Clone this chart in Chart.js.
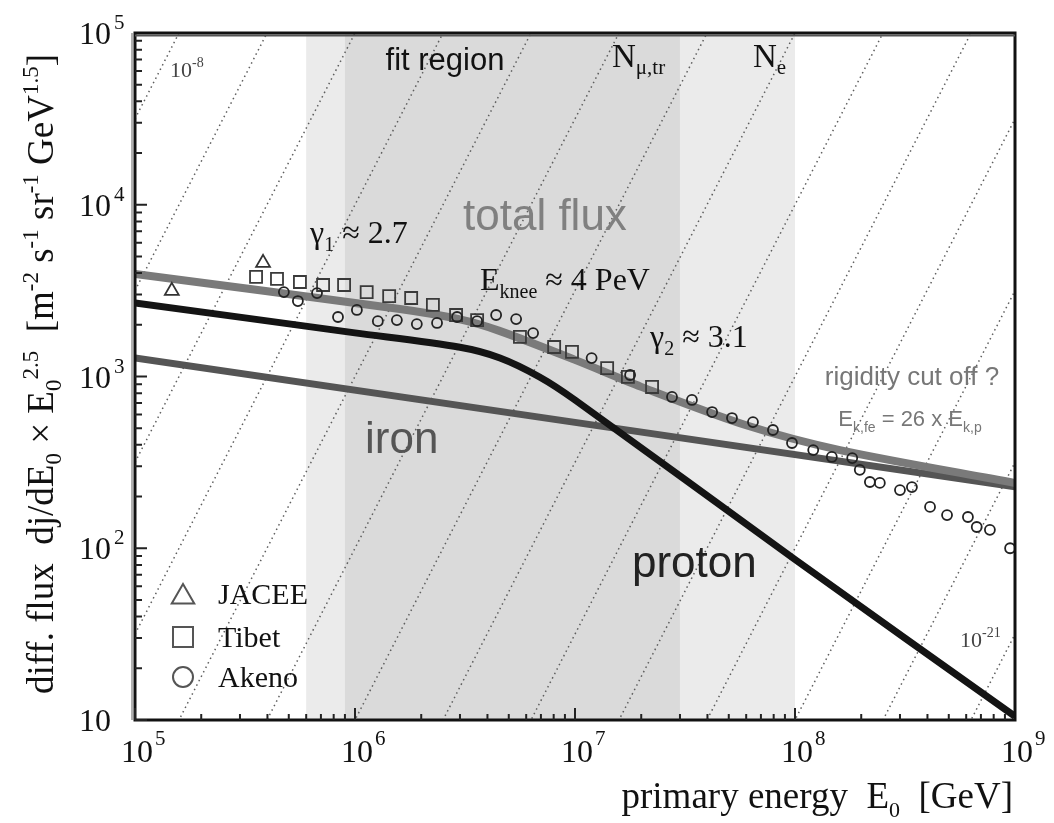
<!DOCTYPE html>
<html>
<head>
<meta charset="utf-8">
<title>Cosmic ray flux</title>
<script src="https://cdn.jsdelivr.net/npm/chart.js@4.4.1/dist/chart.umd.min.js"></script>
<style>
  html, body { margin: 0; padding: 0; background: #fff; }
  #wrap { width: 1054px; height: 823px; }
</style>
</head>
<body>
<div id="wrap"><canvas id="flux" width="1054" height="823"></canvas></div>
<script>
// primary energy in GeV, flux given as dJ/dE0 * E0^2.5
const jaceeE    = [1.47e5, 3.82e5];
const jaceeFlux = [3150, 4585];

const tibetE    = [3.55e5, 4.42e5, 5.62e5, 7.16e5, 8.92e5, 1.13e6, 1.43e6, 1.80e6, 2.26e6,
                   2.88e6, 3.59e6, 5.62e6, 8.04e6, 9.69e6, 1.40e7, 1.74e7, 2.24e7];
const tibetFlux = [3800, 3700, 3550, 3410, 3410, 3100, 2940, 2865, 2610,
                   2280, 2130, 1700, 1485, 1390, 1120, 994, 869];

const akenoE    = [4.75e5, 5.5e5, 6.72e5, 8.37e5, 1.02e6, 1.27e6, 1.55e6, 1.91e6, 2.36e6,
                   2.91e6, 3.59e6, 4.38e6, 5.4e6, 6.45e6, 1.19e7, 1.78e7, 2.76e7, 3.4e7,
                   4.2e7, 5.17e7, 6.44e7, 7.94e7, 9.69e7, 1.21e8, 1.47e8, 1.82e8, 1.97e8,
                   2.19e8, 2.43e8, 3.0e8, 3.4e8, 4.11e8, 4.91e8, 6.11e8, 6.7e8, 7.69e8, 9.5e8];
const akenoFlux = [3100, 2750, 3060, 2220, 2440, 2100, 2130, 2020, 2050,
                   2220, 2100, 2280, 2160, 1790, 1280, 1020, 760, 730,
                   621, 573, 543, 488, 410, 373, 340, 335, 286,
                   243, 240, 218, 227, 174, 156, 152, 133, 128, 100];

// model curves
const totalE    = [1e5, 1.6e6, 3e6, 4.5e6, 1e7, 2e7, 6e7, 1.6e8, 1e9];
const totalFlux = [3950, 2470, 2150, 1850, 1250, 870, 520, 373, 240];

const protonE    = [1e5, 1e6, 3e6, 4.56e6, 6.9e6, 1e7, 1e8, 1e9];
const protonFlux = [2680, 1795, 1480, 1282, 994, 730, 86, 10.5];

const ironE    = [1e5, 1e9];
const ironFlux = [1282, 228];

// shaded energy ranges
const neRange  = [6e5, 1e8];   // N_e range
const fitRange = [9e5, 3e7];   // fit region / N_mu,tr

// lines of constant dJ/dE0 (10^k), flux*E^2.5 grows as E^2.5
const isoFluxExps = [-8, -9, -10, -11, -12, -13, -14, -15, -16, -17, -18, -19, -20, -21];

const xTickExps = [5, 6, 7, 8, 9];
const yTickExps = [1, 2, 3, 4, 5];

const SERIF = '"Liberation Serif", "Times New Roman", serif';
const SANS  = '"Liberation Sans", Arial, sans-serif';

function pts(xs, ys) {
  return xs.map((x, i) => ({ x: x, y: ys[i] }));
}

// draw text made of runs: [text, size, shift]
function drawRich(ctx, x, y, parts, family, align) {
  let total = 0;
  parts.forEach(p => {
    ctx.font = p[1] + 'px ' + family;
    total += ctx.measureText(p[0]).width;
  });
  let cx = x;
  if (align === 'center') cx = x - total / 2;
  if (align === 'right') cx = x - total;
  ctx.textAlign = 'left';
  ctx.textBaseline = 'alphabetic';
  parts.forEach(p => {
    ctx.font = p[1] + 'px ' + family;
    ctx.fillText(p[0], cx, y + (p[2] || 0));
    cx += ctx.measureText(p[0]).width;
  });
}

function drawMarker(ctx, style, x, y, r) {
  ctx.beginPath();
  if (style === 'triangle') {
    ctx.moveTo(x, y - r);
    ctx.lineTo(x + r * 0.866, y + r / 2);
    ctx.lineTo(x - r * 0.866, y + r / 2);
    ctx.closePath();
  } else if (style === 'rect') {
    ctx.rect(x - r, y - r, 2 * r, 2 * r);
  } else {
    ctx.arc(x, y, r, 0, Math.PI * 2);
  }
  ctx.stroke();
}

const fluxDecor = {
  id: 'fluxDecor',
  beforeDatasetsDraw(chart) {
    const { ctx, chartArea: a, scales: { x } } = chart;
    ctx.save();
    ctx.fillStyle = '#ebebeb';
    ctx.fillRect(x.getPixelForValue(neRange[0]), a.top,
      x.getPixelForValue(neRange[1]) - x.getPixelForValue(neRange[0]), a.bottom - a.top);
    ctx.fillStyle = '#dadada';
    ctx.fillRect(x.getPixelForValue(fitRange[0]), a.top,
      x.getPixelForValue(fitRange[1]) - x.getPixelForValue(fitRange[0]), a.bottom - a.top);
    ctx.restore();
  },
  afterDatasetsDraw(chart) {
    const { ctx, chartArea: a, scales: { x, y } } = chart;
    ctx.save();

    // frame
    ctx.strokeStyle = '#b0b0b0';
    ctx.lineWidth = 2;
    ctx.beginPath();
    ctx.moveTo(a.left - 3, a.top);
    ctx.lineTo(a.left - 3, a.bottom);
    ctx.stroke();
    ctx.strokeStyle = '#111';
    ctx.lineWidth = 3;
    ctx.strokeRect(a.left, a.top, a.right - a.left, a.bottom - a.top);
    ctx.lineWidth = 2;
    ctx.strokeStyle = '#555';
    ctx.beginPath();
    ctx.moveTo(a.left, a.top + 2.5);
    ctx.lineTo(a.right, a.top + 2.5);
    ctx.stroke();

    // inward ticks
    ctx.lineWidth = 2;
    ctx.strokeStyle = '#222';
    ctx.beginPath();
    for (let d = 5; d < 9; d++) {
      for (let m = 1; m < 10; m++) {
        const px = x.getPixelForValue(m * Math.pow(10, d));
        const len = m === 1 ? 12 : 6;
        ctx.moveTo(px, a.bottom);
        ctx.lineTo(px, a.bottom - len);
      }
    }
    for (let d = 1; d < 5; d++) {
      for (let m = 1; m < 10; m++) {
        const py = y.getPixelForValue(m * Math.pow(10, d));
        const len = m === 1 ? 12 : 7;
        ctx.moveTo(a.left, py);
        ctx.lineTo(a.left + len, py);
      }
    }
    ctx.stroke();

    // tick labels
    ctx.fillStyle = '#111';
    xTickExps.forEach(e => {
      const px = x.getPixelForValue(Math.pow(10, e));
      ctx.font = '32px ' + SERIF;
      ctx.textAlign = 'center';
      ctx.textBaseline = 'alphabetic';
      ctx.fillText('10', px + 2, 762);
      ctx.font = '21px ' + SERIF;
      ctx.textAlign = 'left';
      ctx.fillText(String(e), px + 20, 745);
    });
    yTickExps.forEach(e => {
      const py = y.getPixelForValue(Math.pow(10, e));
      ctx.font = '32px ' + SERIF;
      ctx.textAlign = 'right';
      ctx.textBaseline = 'alphabetic';
      ctx.fillText('10', 111, py + 11);
      if (e > 1) {
        ctx.font = '21px ' + SERIF;
        ctx.textAlign = 'left';
        ctx.fillText(String(e), 114, py - 4);
      }
    });

    // axis titles
    drawRich(ctx, 1013, 808, [
      ['primary energy  E', 37], ['0', 22, 9], ['  [GeV]', 37]
    ], SERIF, 'right');

    ctx.save();
    ctx.translate(53, 374);
    ctx.rotate(-Math.PI / 2);
    drawRich(ctx, 0, 0, [
      ['diff. flux  dj/dE', 37], ['0', 23, 8], [' \u00d7 E', 37], ['0', 23, 8], ['2.5', 23, -15],
      ['  [m', 37], ['-2', 23, -15], [' s', 37], ['-1', 23, -15], [' sr', 37], ['-1', 23, -15],
      [' GeV', 37], ['1.5', 23, -15], [']', 37]
    ], SERIF, 'center');
    ctx.restore();

    // annotations
    ctx.fillStyle = '#111';
    drawRich(ctx, 445, 70, [['fit region', 31]], SANS, 'center');
    drawRich(ctx, 612, 67, [['N', 33], ['\u03bc,tr', 21, 7]], SERIF, 'left');
    drawRich(ctx, 753, 67, [['N', 33], ['e', 21, 7]], SERIF, 'left');
    drawRich(ctx, 310, 243, [['\u03b3', 32], ['1', 20, 8], [' \u2248 2.7', 32]], SERIF, 'left');
    drawRich(ctx, 480, 290, [['E', 32], ['knee', 20, 8], [' \u2248 4 PeV', 32]], SERIF, 'left');
    drawRich(ctx, 650, 347, [['\u03b3', 32], ['2', 20, 8], [' \u2248 3.1', 32]], SERIF, 'left');

    ctx.fillStyle = '#444';
    drawRich(ctx, 170, 77, [['10', 22], ['-8', 14, -10]], SERIF, 'left');
    drawRich(ctx, 960, 647, [['10', 22], ['-21', 14, -10]], SERIF, 'left');

    ctx.fillStyle = '#808080';
    drawRich(ctx, 463, 230, [['total flux', 44]], SANS, 'left');
    ctx.fillStyle = '#777';
    drawRich(ctx, 912, 385, [['rigidity cut off ?', 26]], SANS, 'center');
    drawRich(ctx, 910, 426, [['E', 22], ['k,fe', 14, 6], [' = 26 x E', 22], ['k,p', 14, 6]], SANS, 'center');
    ctx.fillStyle = '#555';
    drawRich(ctx, 365, 453, [['iron', 44]], SANS, 'left');
    ctx.fillStyle = '#222';
    drawRich(ctx, 632, 577, [['proton', 44]], SANS, 'left');

    // legend
    const rows = [['triangle', 'JACEE', 594, 13], ['rect', 'Tibet', 637, 10], ['circle', 'Akeno', 677, 10]];
    rows.forEach(r => {
      ctx.strokeStyle = '#555';
      ctx.lineWidth = 2;
      drawMarker(ctx, r[0], 183, r[0] === 'triangle' ? r[2] + 3 : r[2], r[3]);
      ctx.fillStyle = '#111';
      drawRich(ctx, 218, r[2] + 10, [[r[1], 30]], SERIF, 'left');
    });

    ctx.restore();
  }
};

const isoSets = isoFluxExps.map(k => ({
  data: [1e5, 1e9].map(e => ({ x: e, y: Math.pow(10, k) * Math.pow(e, 2.5) })),
  showLine: true,
  pointRadius: 0,
  borderColor: '#5e5e5e',
  borderWidth: 1.5,
  borderDash: [1.5, 3.5],
  clip: 0,
  order: 10
}));

const curve = (xs, ys, color, width, order) => ({
  data: pts(xs, ys),
  showLine: true,
  pointRadius: 0,
  borderColor: color,
  borderWidth: width,
  tension: 0.3,
  borderCapStyle: 'butt',
  clip: 0,
  order: order
});

const markers = (xs, ys, style, radius, color, order) => ({
  data: pts(xs, ys),
  showLine: false,
  pointStyle: style,
  pointRadius: radius,
  pointBorderWidth: 1.8,
  pointBorderColor: color,
  pointBackgroundColor: 'rgba(0,0,0,0)',
  clip: false,
  order: order
});

new Chart(document.getElementById('flux'), {
  type: 'scatter',
  data: {
    datasets: [
      markers(akenoE, akenoFlux, 'circle', 5, '#222', 0),
      markers(tibetE, tibetFlux, 'rect', 8.5, '#3a3a3a', 1),
      markers(jaceeE, jaceeFlux, 'triangle', 8, '#333', 2),
      curve(protonE, protonFlux, '#141414', 7, 3),
      curve(totalE, totalFlux, '#7a7a7a', 8, 4),
      curve(ironE, ironFlux, '#555555', 7, 5)
    ].concat(isoSets)
  },
  options: {
    responsive: false,
    animation: false,
    events: [],
    layout: { padding: { left: 135, right: 39, top: 33, bottom: 103 } },
    scales: {
      x: { type: 'logarithmic', min: 1e5, max: 1e9, display: false },
      y: { type: 'logarithmic', min: 10, max: 1e5, display: false }
    },
    plugins: {
      legend: { display: false },
      tooltip: { enabled: false }
    }
  },
  plugins: [fluxDecor]
});
</script>
</body>
</html>
